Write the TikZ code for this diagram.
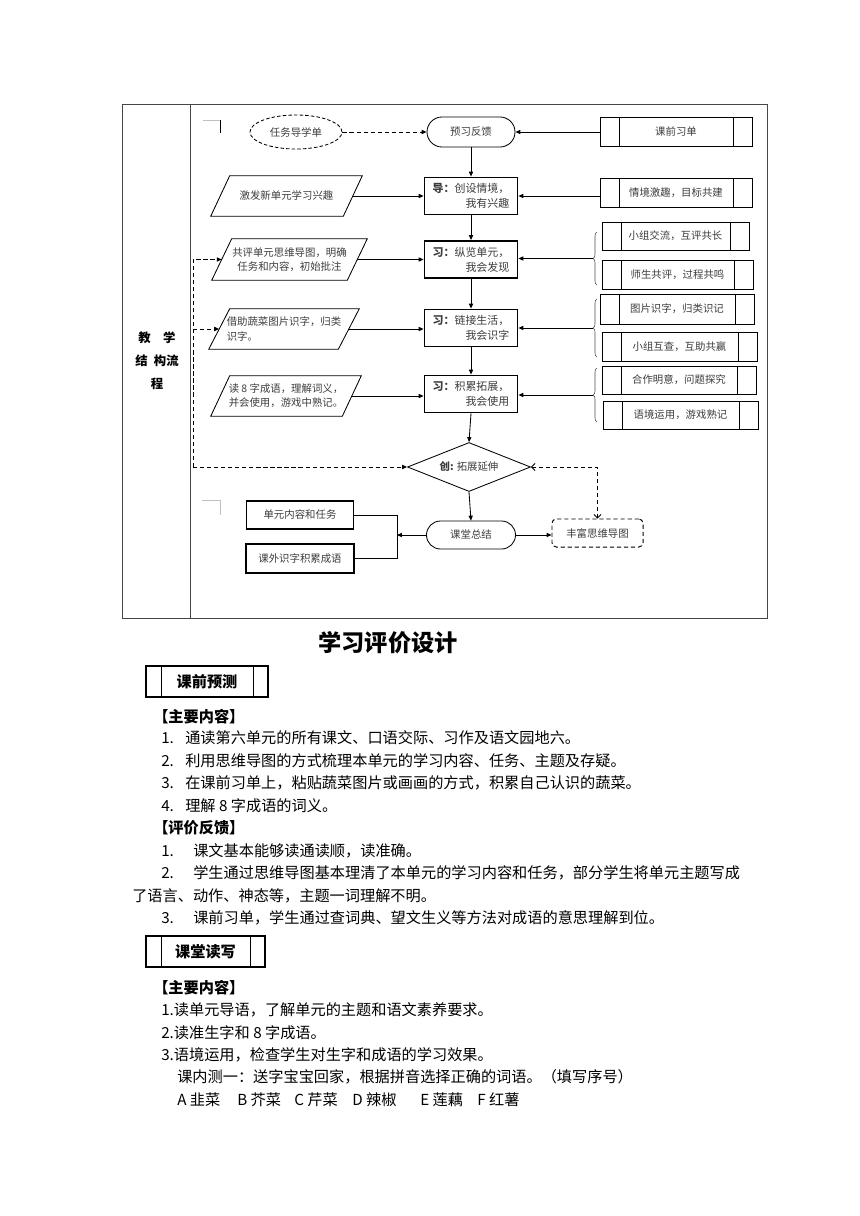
\documentclass[tikz,border=0pt]{standalone}
\usepackage{fontspec}
\setmainfont{Noto Sans CJK SC}
\usetikzlibrary{shapes.geometric,shapes.misc,arrows.meta,decorations.pathreplacing}
\definecolor{flowtxt}{RGB}{60,60,60}
\definecolor{tblline}{RGB}{70,70,70}
\tikzset{
  flow/.style={font=\fontsize{7.4}{10}\selectfont, text=flowtxt, inner sep=0pt},
  stepbox/.style={flow, font=\fontsize{7.8}{10.6}\selectfont, draw, line width=1.3pt, minimum width=2.325cm, minimum height=0.925cm, align=left},
  predef/.style={flow, draw, line width=0.6pt, minimum height=0.725cm,
    path picture={
      \draw [line width=0.6pt] ([xshift=#1]path picture bounding box.north west) -- ([xshift=#1]path picture bounding box.south west) ;
      \draw [line width=0.6pt] ([xshift=-#1]path picture bounding box.north east) -- ([xshift=-#1]path picture bounding box.south east) ;}},
  predef/.default=0.475cm,
  partxt/.style={flow, minimum width=3.775cm, minimum height=1cm, align=center},
  parline/.style={line width=0.6pt},
  arr/.style={line width=0.6pt, -{Triangle[length=3.5pt,width=3pt]}},
  fbarr/.style={line width=0.7pt, dash pattern=on 3pt off 2pt, -{Triangle[length=3.5pt,width=3pt]}},
  brc/.style={decorate, decoration={brace, amplitude=0.1cm}, line width=0.4pt, black!70},
  body/.style={anchor=west, inner sep=0pt, font=\fontsize{10.8}{12}\selectfont},
  cropln/.style={line width=0.5pt, black!25}
}
\begin{document}
\begin{tikzpicture}[x=0.025cm, y=-0.025cm]

\useasboundingbox (0,0) rectangle (860,1216) ;

%table frame
\draw [tblline, line width=0.7pt] (122,104) rectangle (767,618) ;
\draw [tblline, line width=0.7pt] (190,104) -- (190,618) ;
\node [align=center, inner sep=0pt, font=\fontsize{8.8}{16.4}\selectfont\bfseries] (rowlbl) at (157,361) {教\quad 学\\结\enspace 构流\\程} ;

%corner marks
\draw [cropln] (203,120) -- (220,120) ;
\draw [line width=0.6pt] (220,120) -- (220,133) ;
\draw [cropln] (202,500) -- (220,500) -- (220,515) ;

%main column
\node [flow, draw, rounded rectangle, line width=0.6pt, minimum width=2.2cm, minimum height=0.75cm] (yxfk) at (471,132) {预习反馈} ;
\node [stepbox] (dao) at (471,196) {\textbf{导：}创设情境，\\\hspace*{3em}我有兴趣} ;
\node [stepbox] (xi1) at (471,259.5) {\textbf{习：}纵览单元，\\\hspace*{3em}我会发现} ;
\node [stepbox] (xi2) at (471,328) {\textbf{习：}链接生活，\\\hspace*{3em}我会识字} ;
\node [stepbox] (xi3) at (471,394) {\textbf{习：}积累拓展，\\\hspace*{3em}我会使用} ;
\node [flow, draw, diamond, aspect=2.5, line width=0.6pt, minimum width=3.075cm, minimum height=1.225cm] (chuang) at (469,467) {\textbf{创:} 拓展延伸} ;
\node [flow, draw, rounded rectangle, line width=0.6pt, minimum width=2.225cm, minimum height=0.7cm] (ktzj) at (471,535) {课堂总结} ;

\draw [arr] (yxfk.south) -- (dao.north) ;
\draw [arr] (dao.south) -- (xi1.north) ;
\draw [arr] (xi1.south) -- (xi2.north) ;
\draw [arr] (xi2.south) -- (xi3.north) ;
\draw [arr] (xi3.south) -- (chuang.north) ;
\draw [arr] (chuang.south) -- (ktzj.north) ;

%left column
\node [flow, draw, ellipse, line width=0.6pt, dash pattern=on 2.5pt off 1.5pt, minimum width=2.3cm, minimum height=0.85cm] (rwd) at (296,132) {任务导学单} ;
\node [partxt] (p1) at (286.5,196) {激发新单元学习兴趣} ;
\node [partxt, minimum width=3.875cm, minimum height=1.025cm] (p2) at (289.5,259.5) {共评单元思维导图，明确\\任务和内容，初始批注} ;
\node [partxt, align=left, minimum width=3.75cm] (p3) at (284,329) {借助蔬菜图片识字，归类\\识字。} ;
\node [partxt, minimum width=3.75cm] (p4) at (286,396) {读 8 字成语，理解词义，\\并会使用，游戏中熟记。} ;

\draw [parline] ([xshift=0.475cm]p1.north west) -- (p1.north east) -- ([xshift=-0.475cm]p1.south east) -- (p1.south west) -- cycle ;
\draw [parline] ([xshift=0.5cm]p2.north west) -- (p2.north east) -- ([xshift=-0.5cm]p2.south east) -- (p2.south west) -- cycle ;
\draw [parline] ([xshift=0.525cm]p3.north west) -- (p3.north east) -- ([xshift=-0.525cm]p3.south east) -- (p3.south west) -- cycle ;
\draw [parline] ([xshift=0.475cm]p4.north west) -- (p4.north east) -- ([xshift=-0.475cm]p4.south east) -- (p4.south west) -- cycle ;

\draw [fbarr] (rwd.east) -- (yxfk.west) ;
\draw [arr] ([xshift=-0.24cm]p1.east) -- (dao.west) ;
\draw [arr] ([xshift=-0.25cm]p2.east) -- (xi1.west) ;
\draw [arr] ([xshift=-0.26cm]p3.east) -- (p3.east -| xi2.west) ;
\draw [arr] ([xshift=-0.24cm]p4.east) -- (p4.east -| xi3.west) ;

%feedback from the diamond
\coordinate (fbpt) at (193,467) ;
\draw [fbarr] (fbpt) -- (chuang.west) ;
\draw [fbarr] (fbpt) |- ([xshift=0.25cm]p2.west) ;
\draw [fbarr] (fbpt |- p3.west) -- ([xshift=0.26cm]p3.west) ;

%right column
\node [predef, minimum width=3.8cm] (kqxd) at (676,132) {课前习单} ;
\node [predef, minimum width=3.8cm] (qjjq) at (676,192.5) {情境激趣，目标共建} ;
\node [predef, minimum width=3.675cm, minimum height=0.7cm] (xzjl) at (675.5,236) {小组交流，互评共长} ;
\node [predef, minimum width=3.775cm] (sgpj) at (677.5,274.5) {师生共评，过程共鸣} ;
\node [predef, minimum width=3.85cm, minimum height=0.75cm] (tpsz) at (677,309) {图片识字，归类识记} ;
\node [predef, minimum width=3.875cm] (xzhc) at (679.5,346.5) {小组互查，互助共赢} ;
\node [predef, minimum width=3.85cm, minimum height=0.7cm] (hzmy) at (679,380) {合作明意，问题探究} ;
\node [predef, minimum width=3.875cm, minimum height=0.7cm] (yjyy) at (680.5,415) {语境运用，游戏熟记} ;

\draw [arr] (kqxd.west) -- (yxfk.east) ;
\draw [arr] (dao.east -| qjjq.west) -- (dao.east) ;

%braces
\draw [brc] (597,285) -- (597,232) ;
\draw [brc] (597,357) -- (597,299) ;
\draw [brc] (597,422) -- (597,368) ;
\coordinate (t1) at (593,258.5) ;
\coordinate (t2) at (593,328) ;
\coordinate (t3) at (593,395) ;
\draw [arr] (t1) -- (t1 -| xi1.east) ;
\draw [arr] (t2) -- (t2 -| xi2.east) ;
\draw [arr] (t3) -- (t3 -| xi3.east) ;

%bottom row
\node [flow, draw, dash pattern=on 3pt off 2pt, rounded corners=3pt, line width=0.7pt, minimum width=2.275cm, minimum height=0.7cm] (ffsw) at (597.5,533) {丰富思维导图} ;
\node [flow, draw, line width=1.3pt, minimum width=2.675cm, minimum height=0.7cm] (dyrw) at (300,515) {单元内容和任务} ;
\node [flow, draw, line width=1.3pt, minimum width=2.7cm, minimum height=0.725cm] (kwsz) at (300,558.5) {课外识字积累成语} ;
\coordinate (jn) at (397,535) ;

\draw [arr] (ktzj.east) -- (ktzj.east -| ffsw.west) ;
\draw [arr] (ktzj.west) -- (jn) ;
\draw [line width=0.6pt] (dyrw.east) -| (jn |- kwsz.east) -- (kwsz.east) ;
\draw [line width=0.6pt, dash pattern=on 3pt off 2pt, {Straight Barb[length=2.5pt]}-{Straight Barb[length=2.5pt]}] (chuang.east) -| (ffsw.north) ;

%evaluation design
\node [inner sep=0pt, font=\fontsize{16.5}{18}\selectfont\bfseries] (title) at (388,643) {学习评价设计} ;
\node [predef=0.375cm, text=black, font=\fontsize{10.8}{12}\selectfont\bfseries, line width=0.8pt, minimum width=3.05cm, minimum height=0.775cm] (kqyc) at (207,681.5) {课前预测} ;

\node [body] (c1h) at (153,717) {\bfseries 【主要内容】} ;
\node [body] (c1n1) at (161,738) {1.} ;
\node [body] (c1t1) at (185,738) {通读第六单元的所有课文、口语交际、习作及语文园地六。} ;
\node [body] (c1n2) at (161,761) {2.} ;
\node [body] (c1t2) at (185,761) {利用思维导图的方式梳理本单元的学习内容、任务、主题及存疑。} ;
\node [body] (c1n3) at (161,783) {3.} ;
\node [body] (c1t3) at (185,783) {在课前习单上，粘贴蔬菜图片或画画的方式，积累自己认识的蔬菜。} ;
\node [body] (c1n4) at (161,806) {4.} ;
\node [body] (c1t4) at (185,806) {理解 8 字成语的词义。} ;

\node [body] (c2h) at (153,828) {\bfseries 【评价反馈】} ;
\node [body] (c2n1) at (161,851) {1.} ;
\node [body] (c2t1) at (193,851) {课文基本能够读通读顺，读准确。} ;
\node [body] (c2n2) at (161,873) {2.} ;
\node [body] (c2t2) at (193,873) {学生通过思维导图基本理清了本单元的学习内容和任务，部分学生将单元主题写成} ;
\node [body] (c2t2b) at (132,896) {了语言、动作、神态等，主题一词理解不明。} ;
\node [body] (c2n3) at (161,918) {3.} ;
\node [body] (c2t3) at (193,918) {课前习单，学生通过查词典、望文生义等方法对成语的意思理解到位。} ;

\node [predef=0.375cm, text=black, font=\fontsize{10.8}{12}\selectfont\bfseries, line width=0.8pt, minimum width=2.975cm, minimum height=0.775cm] (ktdx) at (205.5,951.5) {课堂读写} ;

\node [body] (c3h) at (153,988) {\bfseries 【主要内容】} ;
\node [body] (c3t1) at (161,1010) {1.读单元导语，了解单元的主题和语文素养要求。} ;
\node [body] (c3t2) at (161,1033) {2.读准生字和 8 字成语。} ;
\node [body] (c3t3) at (161,1055) {3.语境运用，检查学生对生字和成语的学习效果。} ;
\node [body] (c3t4) at (177,1077) {课内测一：送字宝宝回家，根据拼音选择正确的词语。（填写序号）} ;

%word choices
\node [body] (optA) at (177,1100) {A 韭菜} ;
\node [body] (optB) at (237,1100) {B 芥菜} ;
\node [body] (optC) at (294,1100) {C 芹菜} ;
\node [body] (optD) at (352,1100) {D 辣椒} ;
\node [body] (optE) at (420,1100) {E 莲藕} ;
\node [body] (optF) at (477,1100) {F 红薯} ;

\end{tikzpicture}
\end{document}
